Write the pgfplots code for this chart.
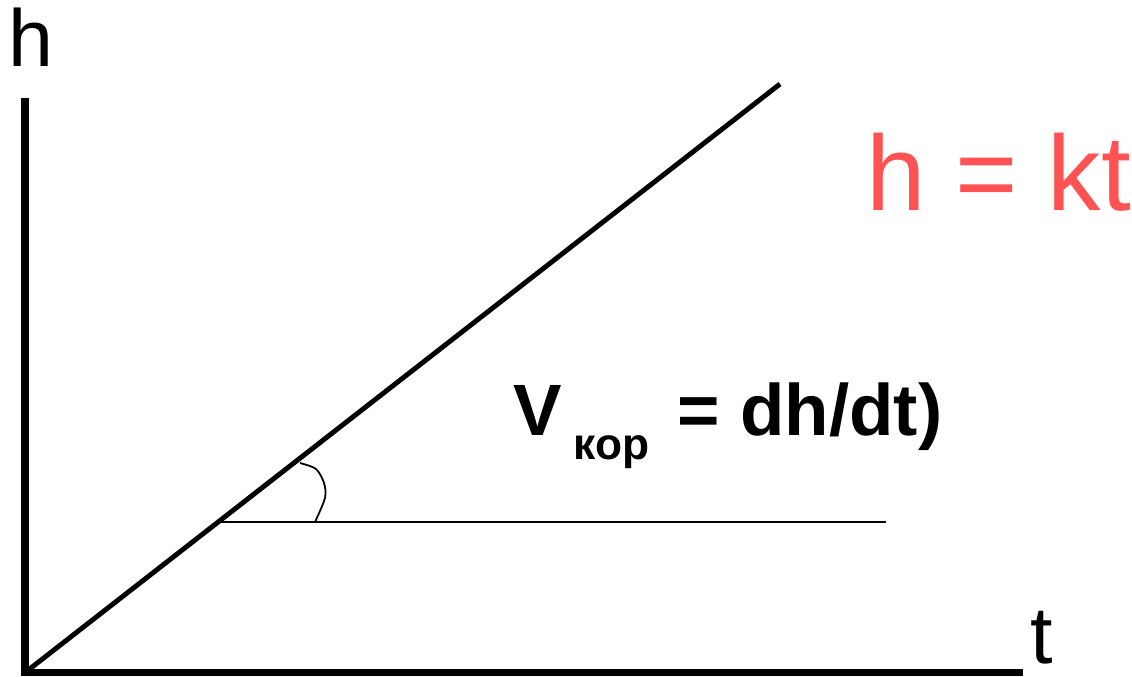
\documentclass[border=0pt]{standalone}
\usepackage{fontspec}
\setmainfont{Liberation Sans}
\usepackage{pgfplots}
\pgfplotsset{compat=1.18}
\definecolor{lawred}{RGB}{255,82,82}
\begin{document}
\begin{tikzpicture}
\begin{axis}[
    width=11.32cm, height=6.76cm, scale only axis,
    xmin=0, xmax=1132, ymin=0, ymax=676,
    hide axis, clip=false,
  ]
  % frame so the page keeps the full size
  \addplot[draw=none] coordinates {(0,0) (1132,676)};
  % axes
  \addplot[black, line width=2pt, line join=miter] coordinates {(25,578) (25,3.5) (1023,3.5)};
  % h = kt
  \addplot[black, line width=1.4pt] coordinates {(27,5) (780,592)};
  % horizontal reference
  \addplot[black, line width=0.5pt] coordinates {(220,154) (886,154)};
  % angle arc
  \addplot[black, line width=0.5pt, smooth] coordinates {(300,213) (316,207) (324,193) (325,178) (315,154)};

  \node[anchor=base west, inner sep=0, font=\fontsize{23}{26}\selectfont] at (axis cs:8,609) {h};
  \node[anchor=base west, inner sep=0, font=\fontsize{23}{26}\selectfont] at (axis cs:1030,13) {t};
  \node[anchor=base west, inner sep=0, text=lawred, font=\fontsize{30.4}{34}\selectfont] at (axis cs:866,466) {h = kt};
  \node[anchor=base west, inner sep=0, font=\fontsize{20.7}{24}\bfseries] at (axis cs:513,241) {V};
  \node[anchor=base west, inner sep=0, font=\fontsize{12.6}{14}\bfseries] at (axis cs:573,217) {кор};
  \node[anchor=base west, inner sep=0, font=\fontsize{20.7}{24}\bfseries] at (axis cs:677,241) {= dh/dt)};
\end{axis}
\end{tikzpicture}
\end{document}
